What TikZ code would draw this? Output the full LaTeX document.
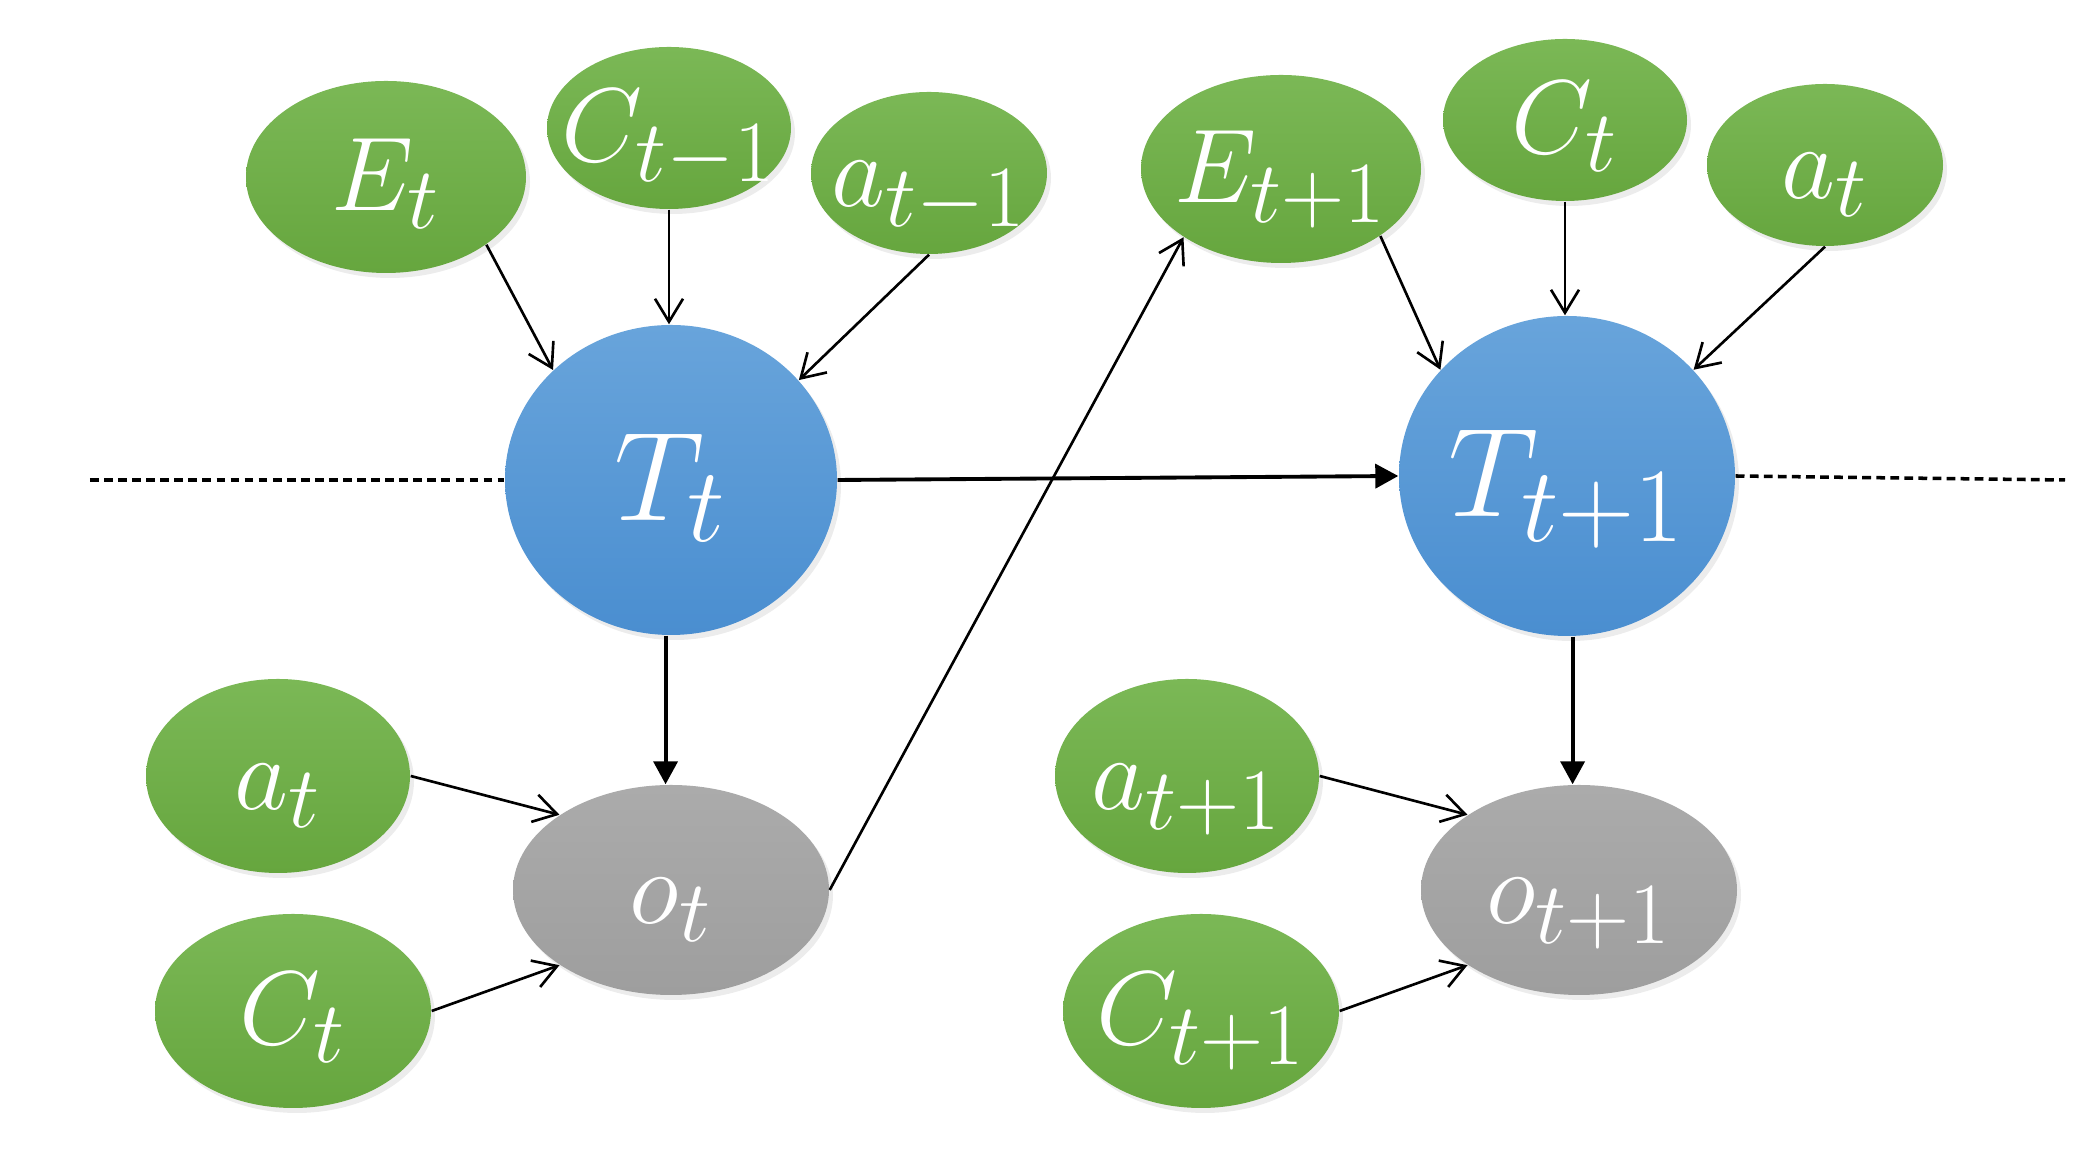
\documentclass[tikz,border=0pt]{standalone}
\usepackage{amsmath}
\usepackage{graphicx}
\usetikzlibrary{shapes.geometric,arrows.meta,shadows}
\definecolor{grntop}{HTML}{7BB856}
\definecolor{grnbot}{HTML}{66A63E}
\definecolor{blutop}{HTML}{68A4DB}
\definecolor{blubot}{HTML}{4A8ED0}
\definecolor{grytop}{HTML}{ABABAB}
\definecolor{grybot}{HTML}{9E9E9E}
\newcommand{\lbl}[2][1.2]{\smash{\makebox[0pt]{\Huge\raisebox{-#1\dimexpr 0.32em\relax}{\scalebox{#1}{$#2$}}}}}

\begin{document}
\begin{tikzpicture}[
	var/.style={ellipse, inner sep=0pt, text=white,
		drop shadow={opacity=0.15, shadow xshift=0.04, shadow yshift=-0.05}},
	cond/.style={var, top color=grntop, bottom color=grnbot},
	big/.style={cond, minimum width=2.8cm, minimum height=1.92cm},
	mid/.style={cond, minimum width=2.68cm, minimum height=1.94cm},
	small/.style={cond, minimum width=2.44cm, minimum height=1.62cm},
	state/.style={var, top color=blutop, bottom color=blubot},
	obs/.style={var, top color=grytop, bottom color=grybot,
		minimum width=3.16cm, minimum height=2.1cm},
	thin/.style={-{Straight Barb[length=2.3mm, width=2.8mm]}, line width=0.75pt},
	thick/.style={-{Triangle[length=2.3mm, width=2.4mm]}, line width=1.1pt},
	axis/.style={dash pattern=on 2.5pt off 1.5pt, line width=1pt}
	]
	\useasboundingbox (0,0) rectangle (20.86,11.55);

	% slice t
	\node[big] (Et) at (3.86,9.78) {\lbl{E_t}};
	\node[small] (Ctm) at (6.69,10.27) {\lbl{C_{t-1}}};
	\node[small, minimum width=2.36cm] (atm) at (9.29,9.82) {\lbl{a_{t-1}}};
	\node[state, minimum width=3.32cm, minimum height=3.1cm] (Tt) at (6.71,6.75) {\lbl[1.45]{T_t}};
	\node[obs] (ot) at (6.71,2.65) {\lbl{o_t}};
	\node[mid, minimum width=2.64cm] (at) at (2.78,3.79) {\lbl{a_t}};
	\node[mid, minimum width=2.76cm] (Ct) at (2.93,1.44) {\lbl{C_t}};

	% slice t+1
	\node[big, minimum height=1.88cm] (Etp) at (12.81,9.86) {\lbl{E_{t+1}}};
	\node[small] (Ctn) at (15.65,10.35) {\lbl{C_t}};
	\node[small, minimum width=2.36cm] (atn) at (18.25,9.90) {\lbl{a_t}};
	\node[state, minimum width=3.36cm, minimum height=3.2cm] (Ttp) at (15.67,6.79) {\lbl[1.45]{T_{t+1}}};
	\node[obs] (otp) at (15.79,2.65) {\lbl{o_{t+1}}};
	\node[mid, minimum width=2.64cm] (atp) at (11.87,3.79) {\lbl{a_{t+1}}};
	\node[mid, minimum width=2.76cm] (Ctp) at (12.01,1.44) {\lbl{C_{t+1}}};

	% time axis
	\coordinate (left) at (0.9,6.75);
	\coordinate (right) at (20.65,6.75);
	\draw[axis] (left) -- (Tt.west);
	\draw[axis] (Ttp.east) -- (right);

	\draw[thin] (Et.-34) -- (Tt.137);
	\draw[thin] (Ctm.south) -- (Ctm.south |- Tt.north);
	\draw[thin] (atm.south) -- (Tt.38);
	\draw[thick] (Tt.east) -- (Ttp.west);
	\draw[thick] (Tt.-92) -- (Tt.-92 |- ot.north);
	\draw[thin] (at.east) -- (ot.146);
	\draw[thin] (Ct.east) -- (ot.214);
	\draw[thin] (ot.east) -- (Etp.215);

	\draw[thin] (Etp.-34) -- (Ttp.140);
	\draw[thin] (Ctn.south) -- (Ctn.south |- Ttp.north);
	\draw[thin] (atn.south) -- (Ttp.40);
	\draw[thick] (Ttp.-88) -- (Ttp.-88 |- otp.north);
	\draw[thin] (atp.east) -- (otp.146);
	\draw[thin] (Ctp.east) -- (otp.214);
\end{tikzpicture}
\end{document}
